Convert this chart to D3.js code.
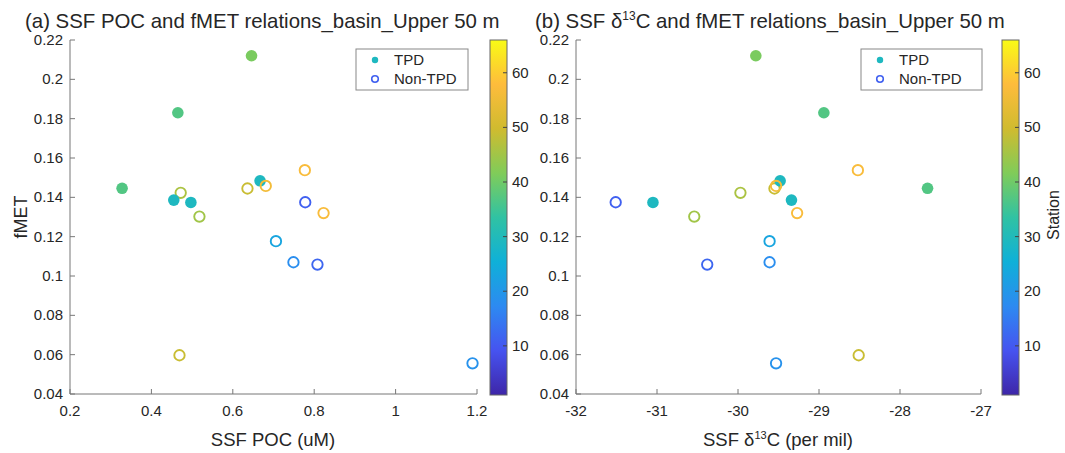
<!DOCTYPE html>
<html><head><meta charset="utf-8">
<script src="https://cdn.jsdelivr.net/npm/d3@7"></script>
<style>
body{margin:0;background:#fff;}
text{font-family:"Liberation Sans",Arial,sans-serif;fill:#262626;}
</style></head>
<body><svg id="c" width="1065" height="453"></svg>
<script>
// ---- data ----
const poc     = [0.646,0.465,0.328,0.472,0.455,0.497,0.518,0.636,0.667,0.681,0.777,0.778,0.823,0.706,0.749,0.808,0.469,1.189];
const d13c    = [-29.78,-28.94,-27.66,-29.97,-29.34,-31.05,-30.54,-29.55,-29.48,-29.53,-28.52,-31.51,-29.27,-29.61,-29.61,-30.38,-28.51,-29.53];
const fmet    = [0.212,0.183,0.1446,0.1423,0.1386,0.1374,0.1302,0.1445,0.1484,0.1458,0.1538,0.1375,0.132,0.1177,0.107,0.1058,0.0597,0.0556];
const station = [41,37,37,46,29,29,45,49,29,56,57,11,57,23,18,12,49,19];
const tpd     = [1,1,1,0,1,1,0,0,1,0,0,0,0,0,0,0,0,0];
const yTicks  = [0.04,0.06,0.08,0.1,0.12,0.14,0.16,0.18,0.2,0.22];
const xTicksA = [0.2,0.4,0.6,0.8,1,1.2];
const xTicksB = [-32,-31,-30,-29,-28,-27];
const cbTicks = [10,20,30,40,50,60];
const parulaStops = ["#3e26a8","#4653f0","#2d8af1","#0fb0d8","#30c2a3","#80cc59","#d0bb2f","#febc3c","#f9fb15"];

const svg = d3.select("#c");
const cDom = [1,66];
const cScale = d3.scaleLinear()
  .domain(parulaStops.map((_,i)=> cDom[0] + (cDom[1]-cDom[0])*i/(parulaStops.length-1)))
  .range(parulaStops).interpolate(d3.interpolateRgb);

const plotTop = 40, plotBot = 394;
const axisCol = "#777";
const fmt = t => String(t);

function panel(opt){
  const g = svg.append("g");
  const x = d3.scaleLinear().domain(opt.xdom).range([opt.x0, opt.x1]);
  const y = d3.scaleLinear().domain([0.04,0.22]).range([plotBot, plotTop]);
  g.append("line").attr("x1",opt.x0).attr("x2",opt.x0).attr("y1",plotTop).attr("y2",plotBot).attr("stroke",axisCol);
  g.append("line").attr("x1",opt.x0).attr("x2",opt.x1).attr("y1",plotBot).attr("y2",plotBot).attr("stroke",axisCol);
  yTicks.forEach(t=>{
    g.append("line").attr("x1",opt.x0).attr("x2",opt.x0+5).attr("y1",y(t)).attr("y2",y(t)).attr("stroke",axisCol);
    g.append("text").attr("x",opt.x0-7).attr("y",y(t)+5).attr("text-anchor","end").attr("font-size",15).text(fmt(t));
  });
  opt.xticks.forEach(t=>{
    g.append("line").attr("x1",x(t)).attr("x2",x(t)).attr("y1",plotBot).attr("y2",plotBot-5).attr("stroke",axisCol);
    g.append("text").attr("x",x(t)).attr("y",416).attr("text-anchor","middle").attr("font-size",15).text(fmt(t));
  });
  opt.xs.forEach((v,i)=>{
    const c = cScale(station[i]);
    const el = g.append("circle").attr("cx",x(v)).attr("cy",y(fmet[i]));
    if(tpd[i]) el.attr("r",5.8).attr("fill",c);
    else el.attr("r",5.2).attr("fill","none").attr("stroke",c).attr("stroke-width",1.9);
  });
  const lg = g.append("g");
  lg.append("rect").attr("x",opt.lx).attr("y",49).attr("width",opt.lw).attr("height",41)
    .attr("fill","#fff").attr("stroke","#888").attr("stroke-width",1);
  lg.append("circle").attr("cx",opt.lx+19).attr("cy",60).attr("r",3.2).attr("fill",cScale(29));
  lg.append("circle").attr("cx",opt.lx+19).attr("cy",79).attr("r",3.3).attr("fill","none").attr("stroke",cScale(11)).attr("stroke-width",1.6);
  lg.append("text").attr("x",opt.lx+38).attr("y",65).attr("font-size",15).text("TPD");
  lg.append("text").attr("x",opt.lx+38).attr("y",84).attr("font-size",15).text("Non-TPD");
  const cb = svg.append("g");
  const cy = d3.scaleLinear().domain(cDom).range([395,40]);
  const gid = "grad"+opt.id;
  const grad = svg.append("defs").append("linearGradient").attr("id",gid)
    .attr("x1","0").attr("y1","1").attr("x2","0").attr("y2","0");
  parulaStops.forEach((c,i)=>grad.append("stop").attr("offset",i/(parulaStops.length-1)).attr("stop-color",c));
  cb.append("rect").attr("x",opt.cbx).attr("y",40).attr("width",17).attr("height",355)
    .attr("fill",`url(#${gid})`).attr("stroke","#666").attr("stroke-width",1);
  cbTicks.forEach(t=>{
    cb.append("line").attr("x1",opt.cbx+17).attr("x2",opt.cbx+13).attr("y1",cy(t)).attr("y2",cy(t)).attr("stroke","#444");
    cb.append("text").attr("x",opt.cbx+22).attr("y",cy(t)+5).attr("font-size",15).text(t);
  });
  return {g,x,y};
}

panel({id:"a",x0:70,x1:477,xdom:[0.2,1.2],xticks:xTicksA,xs:poc,lx:356,lw:112,cbx:490});
panel({id:"b",x0:576,x1:981,xdom:[-32,-27],xticks:xTicksB,xs:d13c,lx:861,lw:121,cbx:1002});

svg.append("text").attr("x",25).attr("y",28).attr("font-size",20.4).text("(a) SSF POC and fMET relations_basin_Upper 50 m");
const tb = svg.append("text").attr("x",535).attr("y",28).attr("font-size",20.4);
tb.append("tspan").text("(b) SSF δ");
tb.append("tspan").attr("font-size",12).attr("dy",-8).text("13");
tb.append("tspan").attr("dy",8).text("C and fMET relations_basin_Upper 50 m");

svg.append("text").attr("x",273).attr("y",446).attr("text-anchor","middle").attr("font-size",18.5).text("SSF POC (uM)");
const xb = svg.append("text").attr("x",778).attr("y",446).attr("text-anchor","middle").attr("font-size",18.5);
xb.append("tspan").text("SSF δ");
xb.append("tspan").attr("font-size",11).attr("dy",-7).text("13");
xb.append("tspan").attr("dy",7).text("C (per mil)");
svg.append("text").attr("transform","translate(27,217) rotate(-90)").attr("text-anchor","middle").attr("font-size",18).text("fMET");
svg.append("text").attr("transform","translate(1059,215) rotate(-90)").attr("text-anchor","middle").attr("font-size",16).text("Station");
</script></body></html>
